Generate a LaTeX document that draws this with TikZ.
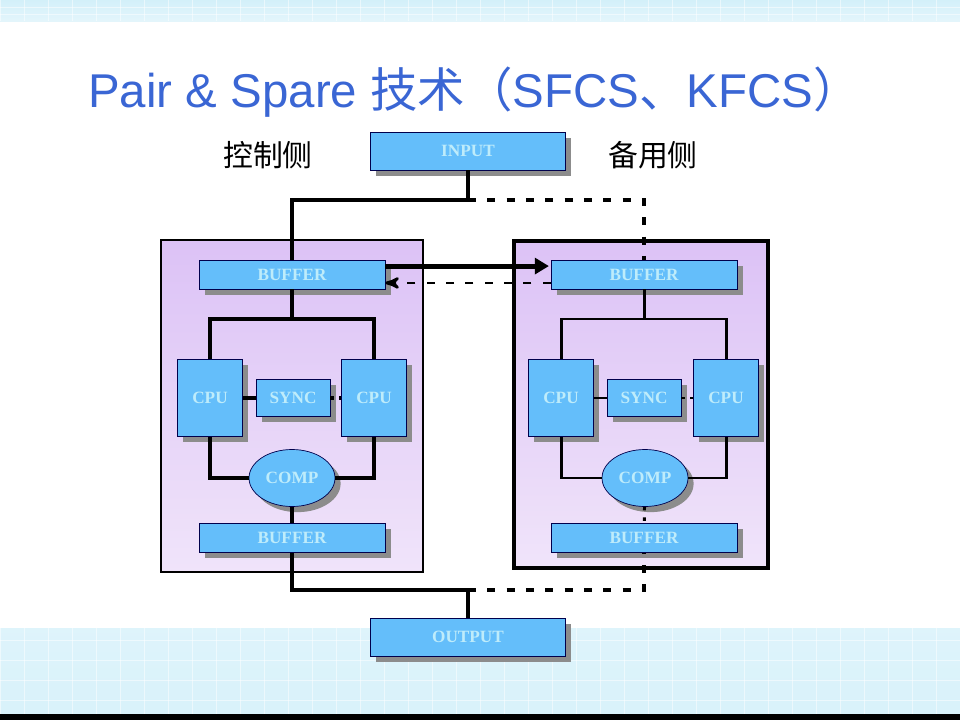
\documentclass[tikz,border=0pt]{standalone}
\usepackage{fontspec}
\setmainfont{Liberation Serif}
\newfontfamily\cjk{Noto Sans CJK SC}
\newfontfamily\arial{Liberation Sans}
\usepackage{tikz}
\usetikzlibrary{shapes}
\usetikzlibrary{shadows}
\usetikzlibrary{arrows}
\usetikzlibrary{arrows.meta}
\definecolor{boxblue}{RGB}{100,190,250}
\definecolor{boxtext}{RGB}{190,236,250}
\definecolor{titleblue}{RGB}{58,102,212}
\definecolor{paneltop}{RGB}{220,194,246}
\definecolor{panelbot}{RGB}{240,228,250}
\definecolor{bandblue}{RGB}{200,236,248}
\tikzset{
	unit/.style={draw=black!70!blue,fill=boxblue,text=boxtext,inner sep=0pt,
		font=\bfseries\fontsize{9.8}{11}\selectfont,
		drop shadow={shadow xshift=3.2pt,shadow yshift=-3.2pt,fill=gray!90,opacity=1}},
	buffer/.style={unit,rectangle,minimum width=3.72cm,minimum height=0.58cm},
	io/.style={unit,rectangle,minimum width=3.9cm,minimum height=0.76cm},
	cpu/.style={unit,rectangle,minimum width=1.3cm,minimum height=1.54cm},
	sync/.style={unit,rectangle,minimum width=1.48cm,minimum height=0.74cm},
	comp/.style={unit,ellipse,minimum width=1.72cm,minimum height=1.14cm},
	bus/.style={line width=2.8pt},
	link/.style={line width=2.2pt},
	thinlink/.style={line width=1.7pt},
	spare/.style={line width=2.2pt,dash pattern=on 4.5pt off 6.5pt},
	side/.style={font=\cjk\fontsize{17}{20}\selectfont}
}

\begin{document}
\begin{tikzpicture}[x=0.02cm,y=-0.02cm,>=stealth']
	\useasboundingbox (0,0) rectangle (960,720);
	% background bands
	\shade[top color=bandblue!80,bottom color=bandblue!50!white] (0,0) rectangle (960,21);
	\shade[top color=bandblue!60!white,bottom color=bandblue!70] (0,628) rectangle (960,714);
	\foreach \x in {0,24,...,960} {
		\draw[white,opacity=0.5] (\x,0) -- (\x,21);
		\draw[white,opacity=0.5] (\x,628) -- (\x,714);
	}
	\foreach \y in {7,14,640,660,680,700}
		\draw[white,opacity=0.5] (0,\y) -- (960,\y);
	\fill[black] (0,714) rectangle (960,720);
	% title
	\node [anchor=base west,inner sep=0pt,text=titleblue,font=\fontsize{27}{30}\selectfont] (title) at (88,107)
		{\arial Pair \& Spare {\cjk 技术（}SFCS{\cjk 、}KFCS{\cjk ）}};
	\node [side] (ctl) at (268,155) {控制侧};
	\node [side] (bak) at (653,155) {备用侧};
	% panels
	\shade[top color=paneltop,bottom color=panelbot,draw=black,line width=0.6pt] (161,240) rectangle (423,572);
	\shade[top color=paneltop,bottom color=panelbot,draw=black,line width=1.8pt] (514,241) rectangle (768,568);
	% units
	\node [io] (in) at (468,151) {INPUT};
	\node [io] (out) at (468,637) {OUTPUT};
	\node [buffer] (lb1) at (292,274.5) {BUFFER};
	\node [cpu] (lc1) at (210,398) {CPU};
	\node [sync] (ls) at (293,398) {SYNC};
	\node [cpu] (lc2) at (374,398) {CPU};
	\node [comp] (lm) at (292,478) {COMP};
	\node [buffer] (lb2) at (292,538) {BUFFER};
	\node [buffer] (rb1) at (644,274.5) {BUFFER};
	\node [cpu] (rc1) at (561,398) {CPU};
	\node [sync] (rs) at (644,398) {SYNC};
	\node [cpu] (rc2) at (726,398) {CPU};
	\node [comp] (rm) at (645,478) {COMP};
	\node [buffer] (rb2) at (644,538) {BUFFER};
	\coordinate (jt) at (468,200);
	\coordinate (jb) at (468,590);
	\coordinate (lt) at (292,319);
	\coordinate (rt) at (644,319);
	% input / output
	\draw[bus] (in) -- (jt) -| (lb1);
	\draw[spare] (jt) -| (rb1);
	\draw[bus] (lb2) |- (jb) -- (out);
	\draw[spare] (jb) -| (rb2);
	% buffer exchange
	\draw[bus,-{Triangle[length=8pt,width=9pt]}] ([yshift=4.8pt]lb1.east) -- ([xshift=-1pt,yshift=4.8pt]rb1.west);
	\draw[spare,line width=1.6pt,->] ([yshift=-4.8pt]rb1.west) -- ([yshift=-4.8pt]lb1.east);
	% control side
	\draw[link] (lb1) -- (lt);
	\draw[link] (lc1) |- (lt) -| (lc2);
	\draw[link] (lc1) -- (ls);
	\draw[link,dash pattern=on 2pt off 3pt] (ls) -- (lc2);
	\draw[link] (lc1) |- (lm);
	\draw[link] (lc2) |- (lm);
	\draw[link] (lm) -- (lb2);
	% spare side
	\draw[thinlink] (rb1) -- (rt);
	\draw[thinlink] (rc1) |- (rt) -| (rc2);
	\draw[thinlink] (rc1) -- (rs);
	\draw[thinlink,dash pattern=on 2pt off 3pt] (rs) -- (rc2);
	\draw[thinlink] (rc1) |- (rm);
	\draw[thinlink] (rc2) |- (rm);
	\draw[thinlink,dash pattern=on 2pt off 4pt] (rm) -- (rb2);
\end{tikzpicture}
\end{document}
